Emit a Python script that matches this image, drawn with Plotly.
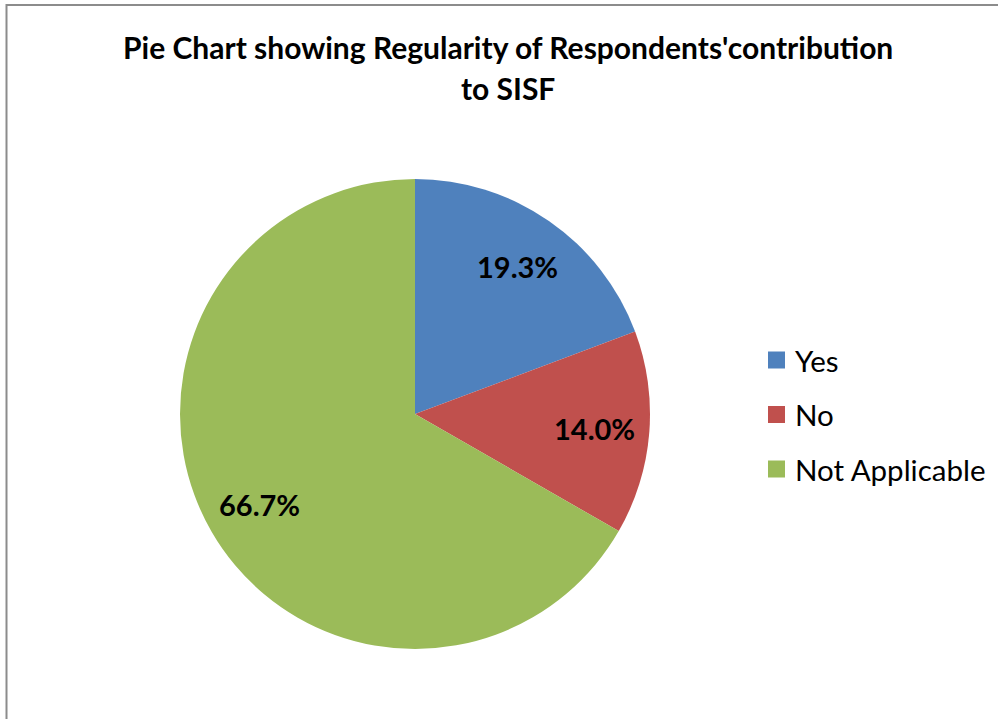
import math
import plotly.graph_objects as go

# Survey responses: regularity of contribution to SISF (percent of respondents)
categories = ["Yes", "No", "Not Applicable"]
shares = [19.3, 14.0, 66.7]
colors = ["#4F81BD", "#C0504D", "#9BBB59"]

W, H = 998, 719
FONT = "Lato"

# pie geometry in pixels
CX, CY, R = 415, 414, 235
LABEL_R = 0.766 * R

fig = go.Figure()

fig.add_trace(go.Pie(
    labels=categories,
    values=shares,
    sort=False,
    direction="clockwise",
    rotation=0,
    marker=dict(colors=colors, line=dict(width=0)),
    textinfo="none",
    hoverinfo="label+percent",
    showlegend=False,
    domain=dict(x=[(CX - R) / W, (CX + R) / W], y=[1 - (CY + R) / H, 1 - (CY - R) / H]),
))

shapes = [
    # chart frame (right and bottom edges fall outside the page)
    dict(type="rect", xref="paper", yref="paper",
         x0=6.5 / W, x1=1.05, y0=-0.05, y1=1 - 5 / H,
         line=dict(color="#8C8C8C", width=2), fillcolor="rgba(0,0,0,0)", layer="below"),
]
annotations = []

# percentage labels at the middle angle of each slice (clockwise from 12 o'clock)
total = sum(shares)
cum = 0.0
for v in shares:
    mid = (cum + v / 2) / total * 360.0
    cum += v
    ang = math.radians(90.0 - mid)
    px = CX + LABEL_R * math.cos(ang)
    py = CY - LABEL_R * math.sin(ang)
    annotations.append(dict(text=f"{v:.1f}%", xref="paper", yref="paper",
                            x=px / W, y=1 - py / H, xanchor="center", yanchor="middle",
                            showarrow=False,
                            font=dict(family=FONT, size=29, color="#000000", weight="bold")))

# legend: colour swatch + label, drawn beside the pie
legend_top = 360
legend_step = 54.5
for i, (name, col) in enumerate(zip(categories, colors)):
    yc = legend_top + i * legend_step
    shapes.append(dict(type="rect", xref="paper", yref="paper",
                       x0=768 / W, x1=785 / W,
                       y0=1 - (yc + 8.5) / H, y1=1 - (yc - 8.5) / H,
                       line=dict(width=0), fillcolor=col))
    annotations.append(dict(text=name, xref="paper", yref="paper",
                            x=793 / W, y=1 - yc / H, xanchor="left", yanchor="middle",
                            showarrow=False,
                            font=dict(family=FONT, size=29.5, color="#000000")))

# chart title, two lines
title_lines = ["Pie Chart showing Regularity of Respondents'contribution", "to SISF"]
for line, yc in zip(title_lines, [47, 88]):
    annotations.append(dict(text=line, xref="paper", yref="paper",
                            x=508 / W, y=1 - yc / H, xanchor="center", yanchor="middle",
                            showarrow=False,
                            font=dict(family=FONT, size=30, color="#000000", weight="bold")))

fig.update_layout(
    width=W, height=H,
    margin=dict(l=0, r=0, t=0, b=0),
    paper_bgcolor="#FFFFFF",
    plot_bgcolor="#FFFFFF",
    shapes=shapes,
    annotations=annotations,
)

fig.write_html("out.html")
